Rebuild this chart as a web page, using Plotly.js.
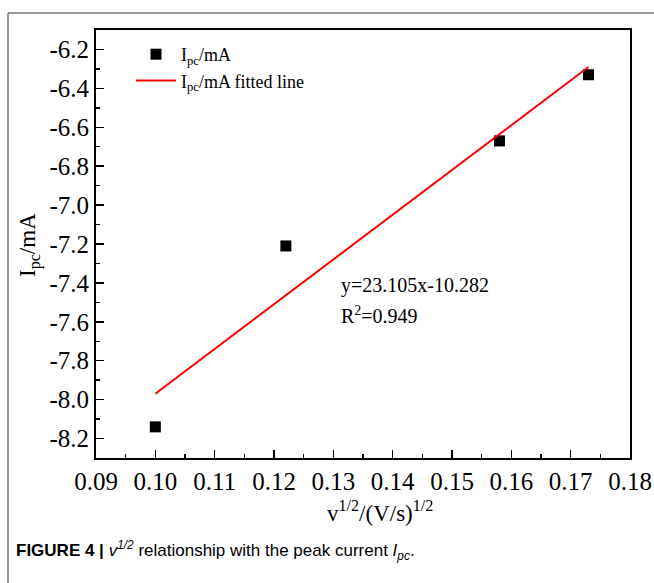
<!DOCTYPE html>
<html>
<head>
<meta charset="utf-8">
<script src="https://cdn.plot.ly/plotly-3.0.1.min.js"></script>
<style>
html,body{margin:0;padding:0;background:#fff;}
#chart{width:654px;height:583px;}
</style>
</head>
<body>
<div id="chart"></div>
<script>
// Data
const xVals = [0.100, 0.122, 0.158, 0.173];
const yVals = [-8.14, -7.21, -6.67, -6.33];
const fitX = [0.100, 0.173];
const fitY = [-7.97, -6.29];
const xTickVals = [0.09, 0.10, 0.11, 0.12, 0.13, 0.14, 0.15, 0.16, 0.17, 0.18];
const xTickLabels = ['0.09','0.10','0.11','0.12','0.13','0.14','0.15','0.16','0.17','0.18'];
const yTickVals = [-6.2, -6.4, -6.6, -6.8, -7.0, -7.2, -7.4, -7.6, -7.8, -8.0, -8.2];
const yTickLabels = ['-6.2','-6.4','-6.6','-6.8','-7.0','-7.2','-7.4','-7.6','-7.8','-8.0','-8.2'];

const serif = '"Liberation Serif", "Times New Roman", serif';

const traces = [
  {
    x: xVals, y: yVals, type: 'scatter', mode: 'markers',
    name: 'I<sub>pc</sub>/mA',
    marker: {symbol: 'square', size: 11, color: '#000'}
  },
  {
    x: fitX, y: fitY, type: 'scatter', mode: 'lines',
    name: 'I<sub>pc</sub>/mA fitted line',
    line: {color: '#ff0000', width: 2}
  }
];

const L = 96, R = 630, T = 30, B = 458, W = 654, H = 583;
const px = v => (v - L) / (R - L);
const py = v => (B - v) / (B - T);

const layout = {
  width: W, height: H,
  margin: {l: L, r: W - R, t: T, b: H - B},
  paper_bgcolor: '#fff', plot_bgcolor: '#fff',
  font: {family: serif, color: '#000'},
  showlegend: true,
  legend: {
    x: px(131), y: py(36), xanchor: 'left', yanchor: 'top',
    bgcolor: 'rgba(0,0,0,0)', font: {family: serif, size: 18, color: '#000'},
    tracegroupgap: 0, itemwidth: 40
  },
  xaxis: {
    range: [0.09, 0.18],
    tickmode: 'array', tickvals: xTickVals, ticktext: xTickLabels,
    ticks: 'inside', ticklen: 8, tickwidth: 1.5, tickcolor: '#000',
    minor: {ticks: 'inside', ticklen: 4, tickwidth: 1.5, tickcolor: '#000', dtick: 0.005, tick0: 0.09, showgrid: false},
    showline: true, linecolor: '#000', linewidth: 2, mirror: true,
    showgrid: false, zeroline: false,
    tickfont: {family: serif, size: 25, color: '#000'}
  },
  yaxis: {
    range: [-8.3, -6.1],
    tickmode: 'array', tickvals: yTickVals, ticktext: yTickLabels,
    ticks: 'inside', ticklen: 8, tickwidth: 1.5, tickcolor: '#000',
    minor: {ticks: 'inside', ticklen: 4, tickwidth: 1.5, tickcolor: '#000', dtick: 0.1, tick0: -6.1, showgrid: false},
    showline: true, linecolor: '#000', linewidth: 2, mirror: true,
    showgrid: false, zeroline: false,
    tickfont: {family: serif, size: 25, color: '#000'}
  },
  shapes: [
    {type: 'line', xref: 'paper', yref: 'paper', x0: px(8), x1: px(W + 5), y0: py(13), y1: py(13), line: {color: '#777', width: 1.5}},
    {type: 'line', xref: 'paper', yref: 'paper', x0: px(8), x1: px(8), y0: py(13), y1: py(H + 5), line: {color: '#777', width: 1.5}}
  ],
  annotations: [
    {
      xref: 'paper', yref: 'paper', x: px(30), y: py(245), xanchor: 'center', yanchor: 'middle',
      textangle: -90, text: 'I<sub>pc</sub>/mA', showarrow: false,
      font: {family: serif, size: 23, color: '#000'}
    },
    {
      xref: 'paper', yref: 'paper', x: px(380), y: py(511), xanchor: 'center', yanchor: 'middle',
      text: 'v<sup>1/2</sup>/(V/s)<sup>1/2</sup>', showarrow: false,
      font: {family: serif, size: 23, color: '#000'}
    },
    {
      xref: 'paper', yref: 'paper', x: px(339), y: py(285), xanchor: 'left', yanchor: 'middle', align: 'left',
      text: 'y=23.105x-10.282', showarrow: false,
      font: {family: serif, size: 20, color: '#000'}
    },
    {
      xref: 'paper', yref: 'paper', x: px(339), y: py(315), xanchor: 'left', yanchor: 'middle', align: 'left',
      text: 'R<sup>2</sup>=0.949', showarrow: false,
      font: {family: serif, size: 20, color: '#000'}
    },
    {
      xref: 'paper', yref: 'paper', x: px(14), y: py(550), xanchor: 'left', yanchor: 'middle', align: 'left',
      text: '<b>FIGURE 4 |</b> <i>v</i><sup><i>1/2</i></sup> relationship with the peak current <i>I</i><sub><i>pc</i></sub>.',
      showarrow: false,
      font: {family: '"Liberation Sans", Arial, sans-serif', size: 17, color: '#000'}
    }
  ]
};

Plotly.newPlot('chart', traces, layout, {displayModeBar: false, staticPlot: true});
</script>
</body>
</html>
